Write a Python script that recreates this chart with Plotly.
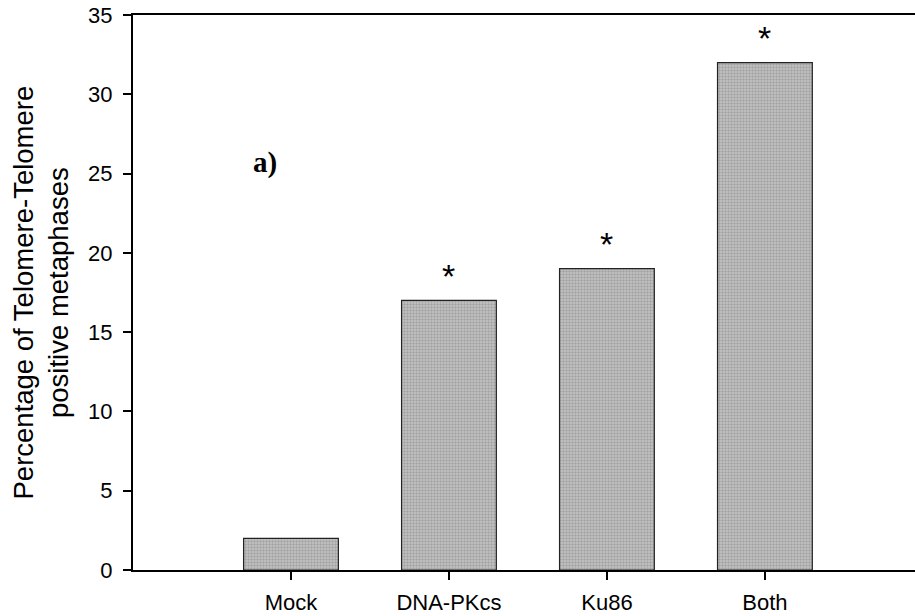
import plotly.graph_objects as go

categories = ["Mock", "DNA-PKcs", "Ku86", "Both"]
values = [2, 17, 19, 32]
significant = [False, True, True, True]
y_ticks = [0, 5, 10, 15, 20, 25, 30, 35]

fig = go.Figure()
fig.add_trace(go.Bar(
    x=list(range(len(categories))),
    y=values,
    width=0.6,
    marker=dict(
        color="#c2c2c2",
        line=dict(color="#222222", width=1.2),
        pattern=dict(shape=".", fgcolor="#7e7e7e", bgcolor="#c6c6c6",
                     size=3, solidity=0.5, fillmode="overlay"),
    ),
    showlegend=False,
))

for i, (v, s) in enumerate(zip(values, significant)):
    if s:
        fig.add_annotation(x=i, y=v + 1.8, text="*", showarrow=False,
                           font=dict(family="Arial, Liberation Sans", size=34, color="black"),
                           xref="x", yref="y", yanchor="middle", yshift=-4)

fig.add_annotation(x=-0.165, y=25.7, text="<b>a)</b>", showarrow=False,
                   font=dict(family="Liberation Serif, Times New Roman, serif", size=29, color="black"),
                   xref="x", yref="y")

fig.add_annotation(x=0, y=0.5, xref="paper", yref="paper", xshift=-92,
                   text="Percentage of Telomere-Telomere<br>positive metaphases",
                   textangle=-90, showarrow=False, xanchor="center", yanchor="middle",
                   font=dict(family="Liberation Sans, Arial", size=27.5, color="black"))

fig.update_xaxes(
    range=[-1.0, 3.95],
    tickvals=list(range(len(categories))),
    ticktext=categories,
    ticks="outside", ticklen=8, tickwidth=1.5, tickcolor="black",
    showline=True, linecolor="black", linewidth=2, mirror=True,
    showgrid=False, zeroline=False, automargin=False,
    ticklabelstandoff=4,
    tickfont=dict(family="Liberation Sans, Arial", size=22, color="black"),
)
fig.update_yaxes(
    range=[0, 35],
    tickvals=y_ticks,
    ticks="outside", ticklen=8, tickwidth=1.5, tickcolor="black",
    showline=True, linecolor="black", linewidth=2,
    showgrid=False, zeroline=False, automargin=False,
    ticklabelstandoff=6,
    tickfont=dict(family="Liberation Sans, Arial", size=22, color="black"),
)
fig.update_layout(
    width=915, height=616,
    margin=dict(l=133, r=0, t=15, b=46),
    plot_bgcolor="white", paper_bgcolor="white",
    bargap=0.4,
)
fig.write_html("out.html", config={"displayModeBar": False},
               post_script="document.body.style.margin='0';document.body.style.overflow='hidden';")
